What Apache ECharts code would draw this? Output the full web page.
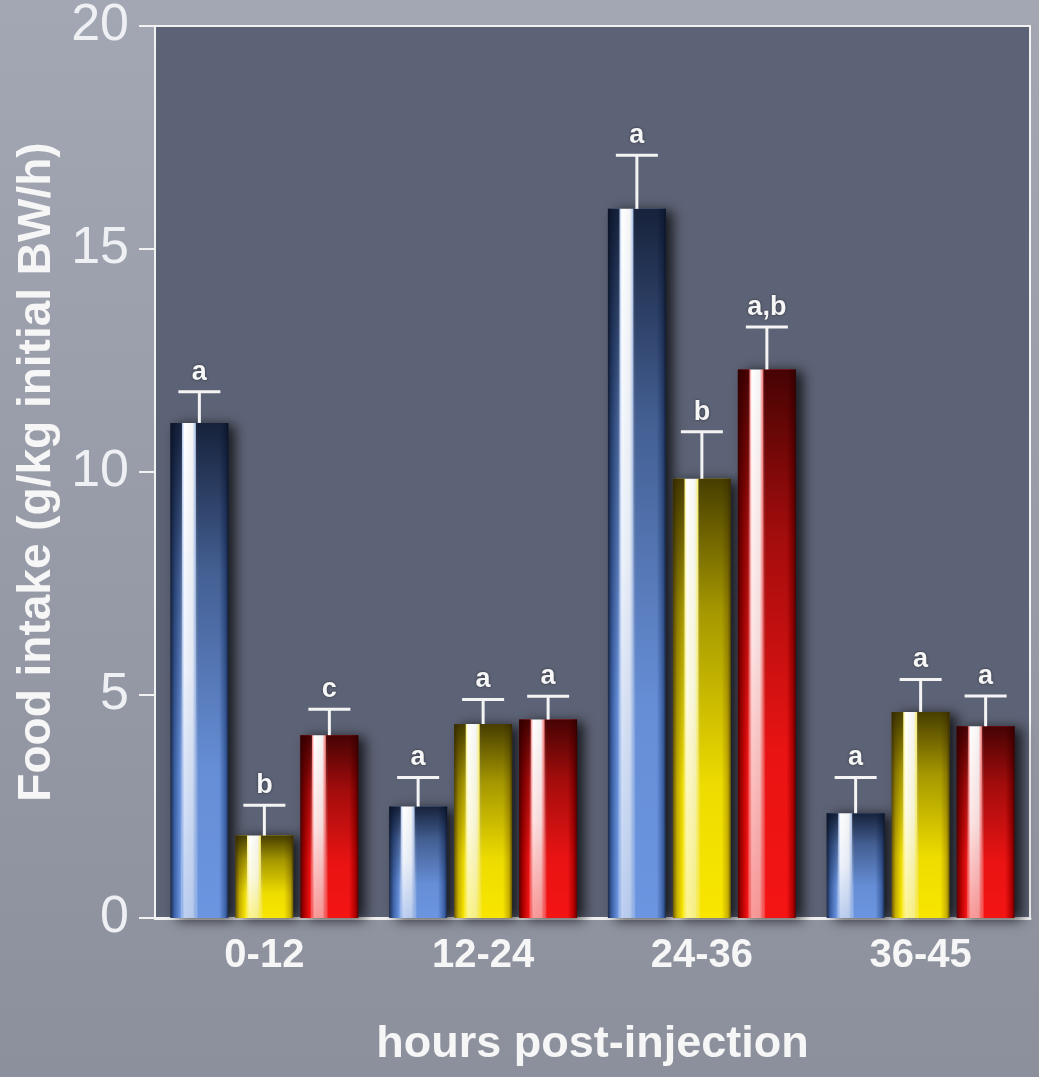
<!DOCTYPE html>
<html>
<head>
<meta charset="utf-8">
<script src="https://cdn.jsdelivr.net/npm/echarts@6/dist/echarts.min.js"></script>
<style>
  html, body { margin: 0; padding: 0; }
  body { background: linear-gradient(#a3a7b3, #8b909c); }
  #chart { width: 1039px; height: 1077px; }
</style>
</head>
<body>
<div id="chart"></div>
<script>
// data
var categories = ['0-12', '12-24', '24-36', '36-45'];
var blueVals = [11.1, 2.5, 15.9, 2.35];
var yellowVals = [1.85, 4.35, 9.85, 4.62];
var redVals = [4.1, 4.45, 12.3, 4.3];
var blueErr = [0.7, 0.65, 1.2, 0.8];
var yellowErr = [0.68, 0.55, 1.05, 0.73];
var redErr = [0.58, 0.52, 0.95, 0.68];
var blueLetters = ['a', 'a', 'a', 'a'];
var yellowLetters = ['b', 'a', 'b', 'a'];
var redLetters = ['c', 'a', 'a,b', 'a'];
var yTicks = [0, 5, 10, 15, 20];

var BAR_W = 58;
var BAR_STEP = 65; // bar width + gap
var FONT = '"Liberation Sans", Arial, sans-serif';

// horizontal "cylinder" look
function barGrad(edge, dark, mid) {
  return new echarts.graphic.LinearGradient(0, 0, 1, 0, [
    { offset: 0, color: edge },
    { offset: 0.07, color: dark },
    { offset: 0.17, color: mid },
    { offset: 0.24, color: '#ffffff' },
    { offset: 0.38, color: '#f4f4f4' },
    { offset: 0.48, color: mid },
    { offset: 0.84, color: mid },
    { offset: 0.95, color: dark },
    { offset: 1, color: edge }
  ]);
}

function barSeries(name, vals, edge, dark, mid) {
  return {
    name: name,
    type: 'bar',
    barWidth: BAR_W,
    barGap: '12%',
    data: vals,
    itemStyle: {
      color: barGrad(edge, dark, mid),
      shadowBlur: 12,
      shadowOffsetX: 7,
      shadowOffsetY: 2,
      shadowColor: 'rgba(0,0,0,0.75)'
    },
    z: 2
  };
}

// top darkening overlay + error bar + letter
function errSeries(vals, errs, letters, slot, shadeRgb, stripRgb) {
  var data = vals.map(function (v, i) { return [i, v, errs[i], letters[i]]; });
  var shade = new echarts.graphic.LinearGradient(0, 0, 0, 1, [
    { offset: 0, color: 'rgba(' + shadeRgb + ',0.85)' },
    { offset: 0.3, color: 'rgba(' + shadeRgb + ',0.4)' },
    { offset: 0.7, color: 'rgba(' + shadeRgb + ',0.05)' },
    { offset: 1, color: 'rgba(' + shadeRgb + ',0)' }
  ]);
  var strip = new echarts.graphic.LinearGradient(0, 0, 0, 1, [
    { offset: 0, color: 'rgba(' + stripRgb + ',0)' },
    { offset: 0.5, color: 'rgba(' + stripRgb + ',0.12)' },
    { offset: 1, color: 'rgba(' + stripRgb + ',0.45)' }
  ]);
  return {
    type: 'custom',
    z: 5,
    data: data,
    renderItem: function (params, api) {
      var cat = api.value(0);
      var v = api.value(1);
      var e = api.value(2);
      var letter = data[params.dataIndex][3];
      var x = api.coord([cat, 0])[0] + (slot - 1) * BAR_STEP;
      var y0 = api.coord([cat, 0])[1];
      var yBase = api.coord([cat, v])[1];
      var yTop = api.coord([cat, v + e])[1];
      var h = y0 - yBase;
      var xl = x - BAR_W / 2;
      var st = { stroke: '#f4f4f4', lineWidth: 3 };
      return {
        type: 'group',
        children: [
          { type: 'rect', shape: { x: xl, y: yBase, width: BAR_W * 0.2, height: h }, style: { fill: shade } },
          { type: 'rect', shape: { x: xl + BAR_W * 0.44, y: yBase, width: BAR_W * 0.56, height: h }, style: { fill: shade } },
          { type: 'rect', shape: { x: xl + BAR_W * 0.2, y: yBase, width: BAR_W * 0.24, height: h }, style: { fill: strip } },
          { type: 'line', shape: { x1: x, y1: yBase, x2: x, y2: yTop }, style: st },
          { type: 'line', shape: { x1: x - 21, y1: yTop, x2: x + 21, y2: yTop }, style: st },
          { type: 'text', style: {
              text: letter, x: x, y: yTop - 6,
              align: 'center', verticalAlign: 'bottom',
              fill: '#f6f6f6', font: 'bold 27px ' + FONT,
              textShadowColor: 'rgba(0,0,0,0.5)', textShadowBlur: 3
          } }
        ]
      };
    }
  };
}

var chart = echarts.init(document.getElementById('chart'), null, { renderer: 'canvas' });
chart.setOption({
  backgroundColor: 'transparent',
  animation: false,
  grid: {
    left: 155, right: 9, top: 8, bottom: 159,
    show: true,
    backgroundColor: '#5d6376',
    borderColor: '#f2f2f2',
    borderWidth: 2
  },
  xAxis: {
    type: 'category',
    data: categories,
    axisTick: { show: false },
    axisLine: { lineStyle: { color: '#f2f2f2', width: 3 } },
    axisLabel: {
      margin: 18,
      color: '#f6f6f6',
      fontSize: 40,
      fontWeight: 'bold',
      fontFamily: FONT
    },
    name: 'hours post-injection',
    nameLocation: 'middle',
    nameGap: 104,
    nameTextStyle: {
      color: '#f6f6f6',
      fontSize: 45,
      fontWeight: 'bold',
      fontFamily: FONT
    }
  },
  yAxis: {
    type: 'value',
    min: yTicks[0],
    max: yTicks[yTicks.length - 1],
    interval: 5,
    splitLine: { show: false },
    axisLine: { show: true, lineStyle: { color: '#f2f2f2', width: 2 } },
    axisTick: { show: true, length: 16, lineStyle: { color: '#f2f2f2', width: 2 } },
    axisLabel: {
      margin: 26,
      color: '#eef0f4',
      fontSize: 52,
      fontFamily: '"Liberation Sans Narrow", "Liberation Sans", sans-serif'
    },
    name: 'Food intake (g/kg initial BW/h)',
    nameLocation: 'middle',
    nameGap: 88,
    nameTextStyle: {
      color: '#f6f6f6',
      fontSize: 46,
      fontWeight: 'bold',
      fontFamily: FONT
    }
  },
  series: [
    barSeries('blue', blueVals, '#1a2a48', '#3d62a8', '#6b95e0'),
    barSeries('yellow', yellowVals, '#6a5800', '#c8b000', '#f8e600'),
    barSeries('red', redVals, '#5a0000', '#b00000', '#f41414'),
    errSeries(blueVals, blueErr, blueLetters, 0, '8,14,30', '107,149,224'),
    errSeries(yellowVals, yellowErr, yellowLetters, 1, '40,32,0', '248,230,0'),
    errSeries(redVals, redErr, redLetters, 2, '40,0,0', '244,30,30')
  ]
});
</script>
</body>
</html>
